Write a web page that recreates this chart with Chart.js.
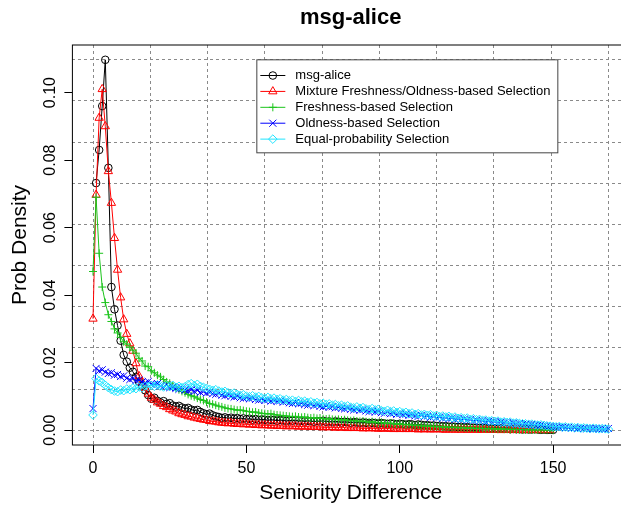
<!DOCTYPE html>
<html><head><meta charset="utf-8">
<script src="https://cdn.jsdelivr.net/npm/chart.js@4.4.1/dist/chart.umd.min.js"></script>
<style>
html,body{margin:0;padding:0;background:#fff;overflow:hidden;width:621px;height:505px}
#wrap{width:640px;height:505px}
</style></head><body>
<div id="wrap"><canvas id="c" width="640" height="505"></canvas></div>
<script>
const chartTitle = 'msg-alice';
const xAxisTitle = 'Seniority Difference';
const yAxisTitle = 'Prob Density';
const seriesNames = ['msg-alice', 'Mixture Freshness/Oldness-based Selection', 'Freshness-based Selection', 'Oldness-based Selection', 'Equal-probability Selection'];
const xTicks = [0, 50, 100, 150];
const yTicks = [0, 0.02, 0.04, 0.06, 0.08, 0.10];
const xGridLines = [0, 18.667, 37.333, 56, 74.667, 93.333, 112, 130.667, 149.333, 168];
const yGridLines = [0, 0.012189, 0.024378, 0.036567, 0.048756, 0.060944, 0.073133, 0.085322, 0.097511, 0.1097];
const xRange = [-6.72, 174.72];
const yRange = [-0.004388, 0.114088];

// first seniority difference of each series (values follow at consecutive integers)
const firstX = [1, 0, 0, 0, 0];

const msgAlice = [
0.0732,0.0830,0.0960,0.1097,0.0777,0.0424,0.0358,0.0310,0.0265,0.0223,0.0203,0.0185,0.0173,0.0158,0.0144,0.0131,0.0118,0.0104,0.0093,0.0096,
0.0087,0.0082,0.0086,0.0078,0.0080,0.0073,0.0070,0.0072,0.0067,0.0064,0.0066,0.0061,0.0058,0.0060,0.0054,0.0050,0.0047,0.0049,0.0044,0.0041,
0.0039,0.0036,0.0038,0.0035,0.0037,0.0034,0.0036,0.0033,0.0035,0.0032,0.0034,0.0031,0.0033,0.0030,0.0032,0.0031,0.0029,0.0031,0.0030,0.0028,
0.0030,0.0029,0.0027,0.0029,0.0028,0.0030,0.0027,0.0028,0.0026,0.0028,0.0027,0.0025,0.0027,0.0026,0.0028,0.0025,0.0026,0.0024,0.0026,0.0025,
0.0023,0.0025,0.0024,0.0022,0.0024,0.0023,0.0021,0.0023,0.0022,0.0020,0.0022,0.0021,0.0019,0.0021,0.0020,0.0018,0.0020,0.0019,0.0017,0.0019,
0.0018,0.0016,0.0018,0.0017,0.0015,0.0017,0.0016,0.0014,0.0015,0.0013,0.0014,0.0012,0.0013,0.0011,0.0012,0.0010,0.0011,0.0010,0.0009,0.0010,
0.0008,0.0009,0.0008,0.0007,0.0008,0.0006,0.0007,0.0006,0.0005,0.0006,0.0005,0.0004,0.0005,0.0004,0.0004,0.0003,0.0004,0.0003,0.0003,0.0002,
0.0003,0.0002,0.0002,0.0003,0.0002,0.0001,0.0002,0.0001,0.0001,0.0001];

const mixtureSel = [
0.0330,0.0697,0.0925,0.1010,0.0900,0.0767,0.0673,0.0569,0.0475,0.0393,0.0328,0.0285,0.0257,0.0235,0.0198,0.0160,0.0142,0.0125,0.0108,0.0096,
0.0090,0.0082,0.0078,0.0071,0.0068,0.0062,0.0058,0.0055,0.0050,0.0047,0.0045,0.0041,0.0040,0.0037,0.0035,0.0033,0.0031,0.0030,0.0027,0.0026,
0.0025,0.0023,0.0022,0.0021,0.0020,0.0021,0.0019,0.0018,0.0019,0.0017,0.0018,0.0016,0.0017,0.0015,0.0016,0.0014,0.0015,0.0014,0.0013,0.0014,
0.0012,0.0013,0.0012,0.0011,0.0013,0.0011,0.0012,0.0010,0.0011,0.0010,0.0011,0.0009,0.0010,0.0009,0.0010,0.0008,0.0009,0.0008,0.0009,0.0007,
0.0008,0.0007,0.0008,0.0006,0.0007,0.0006,0.0007,0.0006,0.0005,0.0006,0.0005,0.0006,0.0005,0.0004,0.0005,0.0004,0.0005,0.0004,0.0003,0.0004,
0.0003,0.0004,0.0003,0.0003,0.0004,0.0003,0.0002,0.0003,0.0002,0.0003,0.0002,0.0002,0.0003,0.0002,0.0002,0.0001,0.0002,0.0002,0.0001,0.0002,
0.0001,0.0002,0.0001,0.0001,0.0002,0.0001,0.0001,0.0001,0.0002,0.0001,0.0001,0.0001,0.0001,0.0000,0.0001,0.0001,0.0001,0.0000,0.0001,0.0001,
0.0000,0.0001,0.0000,0.0001,0.0000,0.0000,0.0001,0.0000,0.0000,0.0000];

const freshnessSel = [
0.0470,0.0690,0.0524,0.0424,0.0378,0.0342,0.0322,0.0300,0.0288,0.0275,0.0262,0.0255,0.0246,0.0237,0.0228,0.0213,0.0205,0.0190,0.0188,0.0176,0.0170,
0.0163,0.0158,0.0150,0.0143,0.0139,0.0131,0.0125,0.0120,0.0115,0.0111,0.0106,0.0102,0.0099,0.0095,0.0091,0.0088,0.0083,0.0079,0.0077,0.0074,
0.0071,0.0069,0.0066,0.0064,0.0063,0.0061,0.0059,0.0060,0.0058,0.0056,0.0055,0.0053,0.0054,0.0051,0.0050,0.0049,0.0048,0.0049,0.0046,0.0045,
0.0044,0.0043,0.0042,0.0041,0.0040,0.0041,0.0039,0.0038,0.0039,0.0037,0.0036,0.0037,0.0035,0.0036,0.0034,0.0033,0.0034,0.0032,0.0031,0.0032,
0.0030,0.0031,0.0029,0.0028,0.0029,0.0027,0.0026,0.0027,0.0025,0.0024,0.0025,0.0023,0.0022,0.0023,0.0021,0.0020,0.0021,0.0019,0.0018,0.0019,
0.0017,0.0016,0.0017,0.0015,0.0014,0.0015,0.0013,0.0012,0.0013,0.0011,0.0012,0.0010,0.0011,0.0009,0.0010,0.0009,0.0008,0.0009,0.0007,0.0008,
0.0007,0.0006,0.0007,0.0006,0.0005,0.0006,0.0005,0.0004,0.0005,0.0004,0.0004,0.0003,0.0004,0.0003,0.0003,0.0002,0.0003,0.0002,0.0002,0.0002,
0.0001,0.0002,0.0001,0.0001,0.0001,0.0001,0.0001,0.0000,0.0001,0.0000];

const oldnessSel = [
0.0064,0.0183,0.0176,0.0179,0.0172,0.0168,0.0170,0.0163,0.0165,0.0159,0.0161,0.0154,0.0150,0.0153,0.0147,0.0149,0.0143,0.0140,0.0144,0.0137,0.0135,
0.0138,0.0131,0.0129,0.0133,0.0126,0.0128,0.0124,0.0121,0.0125,0.0119,0.0117,0.0120,0.0115,0.0118,0.0112,0.0114,0.0110,0.0113,0.0108,0.0106,
0.0109,0.0104,0.0102,0.0105,0.0100,0.0098,0.0101,0.0096,0.0094,0.0097,0.0093,0.0095,0.0091,0.0089,0.0092,0.0088,0.0090,0.0086,0.0088,0.0085,
0.0087,0.0083,0.0085,0.0081,0.0079,0.0082,0.0078,0.0080,0.0076,0.0074,0.0077,0.0073,0.0075,0.0071,0.0069,0.0072,0.0068,0.0070,0.0066,0.0068,
0.0065,0.0063,0.0066,0.0062,0.0060,0.0063,0.0059,0.0061,0.0057,0.0055,0.0058,0.0054,0.0056,0.0052,0.0050,0.0053,0.0049,0.0051,0.0047,0.0049,
0.0046,0.0048,0.0044,0.0046,0.0043,0.0041,0.0044,0.0040,0.0042,0.0038,0.0040,0.0037,0.0039,0.0035,0.0037,0.0034,0.0036,0.0032,0.0034,0.0031,
0.0033,0.0030,0.0031,0.0028,0.0030,0.0027,0.0028,0.0025,0.0027,0.0024,0.0025,0.0023,0.0024,0.0021,0.0022,0.0020,0.0021,0.0018,0.0019,0.0017,
0.0018,0.0016,0.0017,0.0015,0.0014,0.0015,0.0013,0.0012,0.0011,0.0010,0.0009,0.0008,0.0009,0.0007,0.0008,0.0006,0.0007,0.0005,0.0006,0.0005,
0.0004,0.0005,0.0004,0.0005,0.0003,0.0004,0.0003,0.0005];

const equalSel = [
0.0045,0.0153,0.0146,0.0141,0.0133,0.0126,0.0120,0.0116,0.0114,0.0119,0.0117,0.0122,0.0120,0.0125,0.0123,0.0128,0.0126,0.0131,0.0129,0.0133,0.0130,
0.0134,0.0131,0.0128,0.0132,0.0129,0.0133,0.0127,0.0130,0.0126,0.0129,0.0135,0.0138,0.0132,0.0136,0.0130,0.0127,0.0124,0.0121,0.0118,0.0120,
0.0116,0.0113,0.0115,0.0111,0.0108,0.0110,0.0106,0.0103,0.0105,0.0101,0.0099,0.0102,0.0098,0.0100,0.0096,0.0094,0.0097,0.0093,0.0095,0.0091,
0.0093,0.0089,0.0091,0.0087,0.0089,0.0085,0.0088,0.0084,0.0086,0.0082,0.0084,0.0080,0.0082,0.0078,0.0080,0.0076,0.0078,0.0074,0.0076,0.0072,
0.0074,0.0070,0.0072,0.0068,0.0066,0.0069,0.0065,0.0067,0.0063,0.0061,0.0064,0.0060,0.0062,0.0058,0.0056,0.0059,0.0055,0.0057,0.0053,0.0055,
0.0051,0.0053,0.0049,0.0051,0.0047,0.0049,0.0045,0.0047,0.0044,0.0046,0.0042,0.0044,0.0040,0.0042,0.0039,0.0041,0.0037,0.0039,0.0035,0.0037,
0.0034,0.0036,0.0032,0.0034,0.0031,0.0032,0.0029,0.0030,0.0027,0.0028,0.0026,0.0027,0.0024,0.0025,0.0023,0.0024,0.0021,0.0022,0.0020,0.0019,
0.0019,0.0017,0.0018,0.0016,0.0015,0.0016,0.0014,0.0013,0.0012,0.0011,0.0010,0.0011,0.0009,0.0010,0.0008,0.0009,0.0007,0.0008,0.0006,0.0007,
0.0006,0.0005,0.0006,0.0005,0.0004,0.0005,0.0004,0.0003];

const seriesValues = [msgAlice, mixtureSel, freshnessSel, oldnessSel, equalSel];
const seriesColors = ['#000000', '#ff0000', '#1cc41c', '#0000ff', '#1ee4ff'];
const seriesShapes = ['circle', 'triangle', 'cross', 'crossRot', 'rectRot'];
const seriesRadius = [3.8, 4.8, 4, 5, 4.3];
const legendAnchor = [53.4, 0.1097];

const FONT = "'Liberation Sans', Arial, Helvetica, sans-serif";
Chart.defaults.font.family = FONT;
Chart.defaults.color = '#000';

const datasets = seriesValues.map((vals, s) => ({
  label: seriesNames[s],
  data: vals.map((v, i) => ({x: firstX[s] + i, y: v})),
  borderColor: seriesColors[s],
  backgroundColor: 'rgba(0,0,0,0)',
  borderWidth: 1,
  pointStyle: seriesShapes[s],
  pointRadius: seriesRadius[s],
  pointBorderWidth: 1,
  pointBorderColor: seriesColors[s],
  pointBackgroundColor: 'rgba(0,0,0,0)',
  fill: false,
  tension: 0,
  order: seriesValues.length - s
}));

const decor = {
  id: 'decor',
  afterDraw(chart) {
    const {ctx, chartArea: a, scales} = chart;
    ctx.save();
    ctx.strokeStyle = '#000';
    ctx.lineWidth = 1;
    ctx.strokeRect(a.left, a.top, a.right - a.left, a.bottom - a.top);
    ctx.fillStyle = '#000';
    ctx.font = 'bold 22px ' + FONT;
    ctx.textAlign = 'center';
    ctx.textBaseline = 'middle';
    ctx.fillText(chartTitle, (a.left + a.right) / 2, 18);
    // legend
    const lx = scales.x.getPixelForValue(legendAnchor[0]);
    const ly = scales.y.getPixelForValue(legendAnchor[1]);
    const bw = 301, bh = 93, rowH = 15.9;
    ctx.fillStyle = '#fff';
    ctx.fillRect(lx, ly, bw, bh);
    ctx.strokeStyle = '#444';
    ctx.strokeRect(lx, ly, bw, bh);
    ctx.font = '13px ' + FONT;
    ctx.textAlign = 'left';
    for (let i = 0; i < seriesNames.length; i++) {
      const ry = ly + 15.7 + i * rowH;
      ctx.strokeStyle = seriesColors[i];
      ctx.lineWidth = 1;
      ctx.beginPath();
      ctx.moveTo(lx + 3.5, ry);
      ctx.lineTo(lx + 28.5, ry);
      ctx.stroke();
      ctx.fillStyle = 'rgba(0,0,0,0)';
      Chart.helpers.drawPoint(ctx, {pointStyle: seriesShapes[i], radius: seriesRadius[i], rotation: 0, borderWidth: 1}, lx + 16, ry);
      ctx.fillStyle = '#000';
      ctx.fillText(seriesNames[i], lx + 38.5, ry);
    }
    ctx.restore();
  }
};

new Chart(document.getElementById('c'), {
  type: 'line',
  data: {datasets},
  plugins: [decor],
  options: {
    responsive: false,
    animation: false,
    events: [],
    devicePixelRatio: 1,
    layout: {padding: {top: 45, right: 11, left: 0, bottom: 0}},
    plugins: {legend: {display: false}, tooltip: {enabled: false}, title: {display: false}},
    scales: {
      x: {
        type: 'linear', position: 'bottom', min: xRange[0], max: xRange[1],
        afterBuildTicks: s => { s.ticks = xTicks.map(v => ({value: v})); },
        afterFit: s => { s.height = 60; },
        grid: {drawOnChartArea: false, drawTicks: true, tickLength: 8, color: '#000', lineWidth: 1},
        border: {display: false},
        ticks: {font: {size: 16}, color: '#000', padding: 6, maxRotation: 0, autoSkip: false},
        title: {display: true, text: xAxisTitle, font: {size: 21}, padding: {top: 0, bottom: -1}, color: '#000'}
      },
      xg: {
        type: 'linear', position: 'bottom', min: xRange[0], max: xRange[1],
        afterBuildTicks: s => { s.ticks = xGridLines.map(v => ({value: v})); },
        afterFit: s => { s.height = 0; },
        grid: {drawOnChartArea: true, drawTicks: false, color: '#8a8a8a', lineWidth: 1},
        border: {display: false, dash: [3, 3]},
        ticks: {display: false}
      },
      y: {
        type: 'linear', position: 'left', min: yRange[0], max: yRange[1],
        afterBuildTicks: s => { s.ticks = yTicks.map(v => ({value: v})); },
        afterFit: s => { s.width = 72.4; },
        grid: {drawOnChartArea: false, drawTicks: true, tickLength: 8, color: '#000', lineWidth: 1},
        border: {display: false},
        ticks: {font: {size: 16}, color: '#000', padding: -2, minRotation: 90, maxRotation: 90, crossAlign: 'center', autoSkip: false,
          callback: v => v.toFixed(2)},
        title: {display: true, text: yAxisTitle, font: {size: 21}, padding: {top: 8, bottom: 0}, color: '#000'}
      },
      yg: {
        type: 'linear', position: 'left', min: yRange[0], max: yRange[1],
        afterBuildTicks: s => { s.ticks = yGridLines.map(v => ({value: v})); },
        afterFit: s => { s.width = 0; },
        grid: {drawOnChartArea: true, drawTicks: false, color: '#8a8a8a', lineWidth: 1},
        border: {display: false, dash: [3, 3]},
        ticks: {display: false}
      }
    }
  }
});
</script>
</body></html>
